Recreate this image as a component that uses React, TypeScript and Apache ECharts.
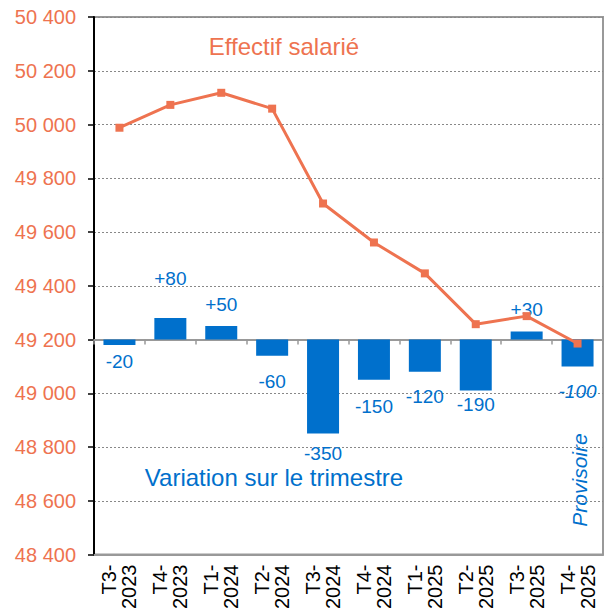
import React, { useEffect, useRef } from "react";
import * as echarts from "echarts";

const categories = ["T3-\n2023", "T4-\n2023", "T1-\n2024", "T2-\n2024", "T3-\n2024", "T4-\n2024", "T1-\n2025", "T2-\n2025", "T3-\n2025", "T4-\n2025"];
const effectif = [49988, 50073, 50118, 50059, 49706, 49561, 49446, 49257, 49287, 49185];
const variation = [-20, 80, 50, -60, -350, -150, -120, -190, 30, -100];
const yTicks = { min: 48400, max: 50400, interval: 200 };

const labelDistances = [7, 30, 12, 16, 10, 17, 15, 4, 12, 16];

const ORANGE = "#EE7350";
const BLUE = "#0070CC";
const FONT = "Liberation Sans, Arial, sans-serif";

export default function App() {
  const ref = useRef<HTMLDivElement>(null);
  useEffect(() => {
    const chart = echarts.init(ref.current!, null, { renderer: "svg" });
    const n = variation.length;
    chart.setOption({
      animation: false,
      textStyle: { fontFamily: FONT },
      grid: {
        left: 94, right: 7, top: 17, bottom: 56,
        show: true, borderColor: "#999", borderWidth: 2, backgroundColor: "transparent",
      },
      xAxis: [
        {
          type: "category", data: categories, position: "bottom",
          axisLine: { onZero: false, lineStyle: { color: "#999", width: 2 } },
          axisTick: { show: false },
          axisLabel: { rotate: 90, color: "#000", fontSize: 20, lineHeight: 20, margin: 10, fontFamily: FONT, interval: 0 },
        },
        {
          type: "category", data: categories, position: "bottom",
          axisLine: { onZero: true, onZeroAxisIndex: 1, lineStyle: { color: "#999", width: 2 } },
          axisTick: { show: true, length: 5, lineStyle: { color: "#999", width: 1.5 } },
          axisLabel: { show: false },
        },
      ],
      yAxis: [
        {
          type: "value", min: yTicks.min, max: yTicks.max, interval: yTicks.interval,
          axisLine: { show: true, lineStyle: { color: "#000", width: 2 } },
          axisTick: { show: true, inside: false, length: 6, lineStyle: { color: "#000", width: 1.5 } },
          axisLabel: {
            color: ORANGE, fontSize: 20, margin: 18, fontFamily: FONT,
            formatter: (v: number) => {
              const s = String(v);
              return s.slice(0, s.length - 3) + " " + s.slice(s.length - 3);
            },
          },
          splitLine: { show: true, lineStyle: { color: "#888", type: [2, 2], width: 1 } },
        },
        {
          type: "value", min: -800, max: 1200, interval: 200, show: false,
          splitLine: { show: false },
        },
      ],
      series: [
        {
          type: "bar", xAxisIndex: 1, yAxisIndex: 1, barWidth: 32,
          itemStyle: { color: BLUE },
          data: variation.map((v, i) => ({
            value: v,
            label: {
              show: true,
              position: v >= 0 ? "top" : "bottom",
              distance: labelDistances[i],
              color: BLUE,
              fontSize: 19,
              fontFamily: FONT,
              fontStyle: i === n - 1 ? "italic" : "normal",
              formatter: v > 0 ? "+" + v : String(v),
            },
          })),
          z: 2,
        },
        {
          type: "line", xAxisIndex: 0, yAxisIndex: 0, data: effectif,
          symbol: "rect", symbolSize: 8,
          lineStyle: { color: ORANGE, width: 3 },
          itemStyle: { color: ORANGE },
          z: 5,
        },
      ],
      graphic: [
        { type: "text", x: 284, y: 46, style: { text: "Effectif salarié", fill: ORANGE, fontSize: 24, fontFamily: FONT, align: "center", verticalAlign: "middle" } },
        { type: "text", x: 274, y: 477, style: { text: "Variation sur le trimestre", fill: BLUE, fontSize: 24, fontFamily: FONT, align: "center", verticalAlign: "middle" } },
        { type: "text", x: 579, y: 480, rotation: Math.PI / 2, style: { text: "Provisoire", fill: BLUE, fontSize: 21, fontStyle: "italic", fontFamily: FONT, align: "center", verticalAlign: "middle" } },
      ],
    });
    return () => chart.dispose();
  }, []);
  return <div ref={ref} style={{ width: 610, height: 612, position: "absolute", left: 0, top: 0 }} />;
}
